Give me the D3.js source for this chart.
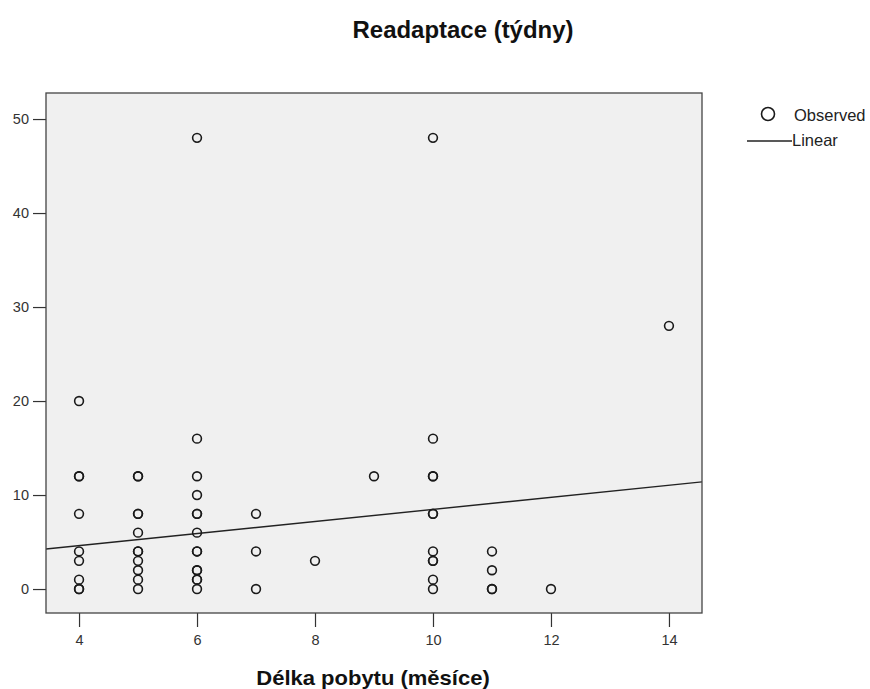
<!DOCTYPE html>
<html><head><meta charset="utf-8">
<script src="https://cdn.jsdelivr.net/npm/d3@7"></script>
<style>body{margin:0;background:#fff}svg{display:block}</style>
</head><body>
<script>
const title = "Readaptace (týdny)";
const xLabel = "Délka pobytu (měsíce)";
const xTicks = [4, 6, 8, 10, 12, 14];
const yTicks = [0, 10, 20, 30, 40, 50];
const xs = [4,4,4,4,4,4,4,4,4,
            5,5,5,5,5,5,5,5,5,5,5,
            6,6,6,6,6,6,6,6,6,6,6,6,6,6,
            7,7,7, 8, 9,
            10,10,10,10,10,10,10,10,10,10,10,
            11,11,11,11, 12, 14];
const ys = [20,12,12,8,4,3,1,0,0,
            12,12,8,8,6,4,4,3,2,1,0,
            48,16,12,10,8,8,6,4,4,2,2,1,1,0,
            8,4,0, 3, 12,
            48,16,12,12,8,8,4,3,3,1,0,
            4,2,0,0, 0, 28];
const fitIntercept = 2.05, fitSlope = 0.642;
const legendItems = ["Observed", "Linear"];

const W = 870, H = 689;
const svg = d3.select("body").append("svg").attr("width", W).attr("height", H);
const L = 46, R = 702, T = 93, B = 613;
const x = d3.scaleLinear().domain([3.44, 14.56]).range([L, R]);
const y = d3.scaleLinear().domain([-2.55, 52.77]).range([B, T]);

svg.append("rect").attr("x", L).attr("y", T).attr("width", R - L).attr("height", B - T)
  .attr("fill", "#f0f0f0");

const font = "'Liberation Sans', Arial, sans-serif";
svg.append("text").attr("transform", "translate(463,38) scale(1.02,1)").attr("text-anchor", "middle")
  .attr("font-family", font).attr("font-weight", "bold").attr("font-size", 23.5).attr("fill", "#111").text(title);
svg.append("text").attr("transform", "translate(373,685) scale(1.1,1)").attr("text-anchor", "middle")
  .attr("font-family", font).attr("font-weight", "bold").attr("font-size", 20).attr("fill", "#111").text(xLabel);

const gx = svg.append("g").attr("transform", `translate(0,${B})`)
  .call(d3.axisBottom(x).tickValues(xTicks).tickSize(14).tickPadding(8).tickSizeOuter(0));
const gy = svg.append("g").attr("transform", `translate(${L},0)`)
  .call(d3.axisLeft(y).tickValues(yTicks).tickSize(13).tickPadding(4).tickSizeOuter(0));
[gx, gy].forEach(g => {
  g.select(".domain").remove();
  g.selectAll("line").attr("stroke", "#333").attr("stroke-width", 1.2);
  g.selectAll("text").attr("font-family", font).attr("font-size", 14.5).attr("fill", "#333");
});

const clip = svg.append("clipPath").attr("id", "c").append("rect")
  .attr("x", L).attr("y", T).attr("width", R - L).attr("height", B - T);
const xd = x.domain();
svg.append("line").attr("clip-path", "url(#c)")
  .attr("x1", x(xd[0])).attr("y1", y(fitIntercept + fitSlope * xd[0]))
  .attr("x2", x(xd[1])).attr("y2", y(fitIntercept + fitSlope * xd[1]))
  .attr("stroke", "#222").attr("stroke-width", 1.4);

svg.append("g").selectAll("circle").data(xs.map((v, i) => [v, ys[i]])).join("circle")
  .attr("cx", d => x(d[0])).attr("cy", d => y(d[1])).attr("r", 4.4)
  .attr("fill", "none").attr("stroke", "#1a1a1a").attr("stroke-width", 1.6);

svg.append("rect").attr("x", L).attr("y", T).attr("width", R - L).attr("height", B - T)
  .attr("fill", "none").attr("stroke", "#444").attr("stroke-width", 1.3);

// legend
svg.append("circle").attr("cx", 768).attr("cy", 114).attr("r", 6.5)
  .attr("fill", "none").attr("stroke", "#1a1a1a").attr("stroke-width", 1.6);
svg.append("text").attr("x", 794).attr("y", 121).attr("font-family", font).attr("font-size", 16.5)
  .attr("fill", "#222").text(legendItems[0]);
svg.append("line").attr("x1", 747).attr("x2", 792).attr("y1", 141).attr("y2", 141)
  .attr("stroke", "#222").attr("stroke-width", 1.4);
svg.append("text").attr("x", 792).attr("y", 146).attr("font-family", font).attr("font-size", 16.5)
  .attr("fill", "#222").text(legendItems[1]);
</script>
</body></html>
